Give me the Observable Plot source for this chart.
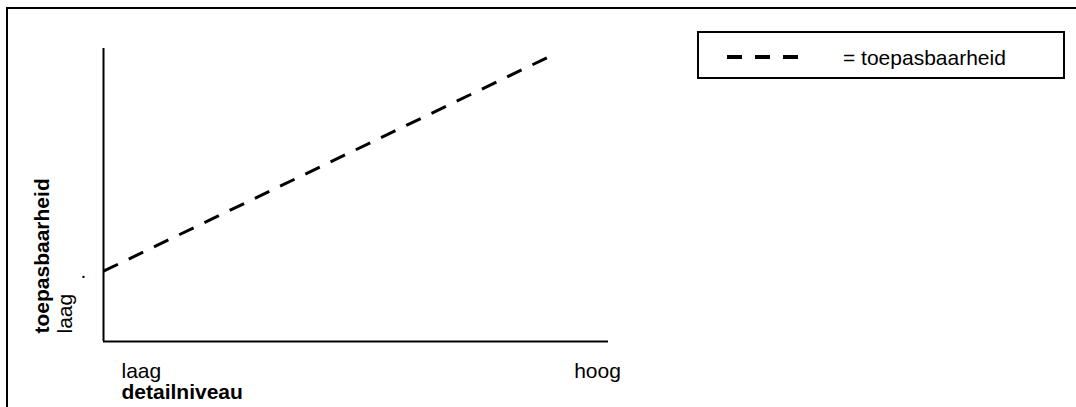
<!DOCTYPE html>
<html><head><meta charset="utf-8">
<script src="https://cdn.jsdelivr.net/npm/d3@7"></script>
<script src="https://cdn.jsdelivr.net/npm/@observablehq/plot@0.6"></script>
<style>
html,body{margin:0;padding:0;background:#fff;}
#wrap{position:relative;width:1076px;height:407px;overflow:hidden;font-family:"Liberation Sans",Arial,sans-serif;}
#wrap > svg{position:absolute;left:0;top:0;}
#frame{position:absolute;left:6px;top:7px;width:2000px;height:2000px;border-top:2px solid #000;border-left:2px solid #000;}
#legend{position:absolute;left:697px;top:31px;width:368px;height:48px;box-sizing:border-box;border:2px solid #000;background:#fff;}
#legend svg{position:absolute;left:0;top:0;}
</style></head><body><div id="wrap"></div>
<script>
// Data
const detailLevel = [0, 0.88];          // x: detailniveau (laag -> hoog)
const applicability = [0.24, 0.97];     // y: toepasbaarheid
const xTickLabels = ["laag", "hoog"];
const yTickLabels = ["laag"];
const xTitle = "detailniveau";
const yTitle = "toepasbaarheid";
const seriesName = "toepasbaarheid";

const data = detailLevel.map((d, i) => ({x: d, y: applicability[i]}));
const font = "'Liberation Sans', Arial, sans-serif";

const chart = Plot.plot({
  width: 1076, height: 407,
  marginLeft: 103, marginRight: 468, marginTop: 48, marginBottom: 66,
  x: {domain: [0, 1], axis: null},
  y: {domain: [0, 1], axis: null},
  style: {fontFamily: font, fontSize: "21px", background: "transparent", overflow: "visible", color: "#000"},
  marks: [
    Plot.ruleX([0], {stroke: "#000", strokeWidth: 2}),
    Plot.ruleY([0], {stroke: "#000", strokeWidth: 2}),
    Plot.line(data, {x: "x", y: "y", stroke: "#000", strokeWidth: 3, strokeDasharray: "16,12", strokeLinecap: "butt"}),
    // x tick labels
    Plot.text([xTickLabels[0]], {text: d => d, frameAnchor: "bottom-left", textAnchor: "start", lineAnchor: "bottom", dx: 18, dy: 36, fontSize: 21, fill: "#000"}),
    Plot.text([xTickLabels[1]], {text: d => d, frameAnchor: "bottom-right", textAnchor: "middle", lineAnchor: "bottom", dx: -11, dy: 36, fontSize: 21, fill: "#000"}),
    // x title
    Plot.text([xTitle], {text: d => d, frameAnchor: "bottom-left", textAnchor: "start", lineAnchor: "bottom", dx: 18, dy: 57, fontSize: 21, fontWeight: "bold", fill: "#000"}),
    // y tick label (rotated)
    Plot.text([yTickLabels[0]], {text: d => d, frameAnchor: "bottom-left", rotate: -90, textAnchor: "start", lineAnchor: "bottom", dx: -32, dy: -8, fontSize: 21, fill: "#000"}),
    // y title (rotated)
    Plot.text([yTitle], {text: d => d, frameAnchor: "bottom-left", rotate: -90, textAnchor: "start", lineAnchor: "bottom", dx: -55, dy: -8, fontSize: 21, fontWeight: "bold", fill: "#000"}),
    // stray dot
    Plot.text(["."], {text: d => d, frameAnchor: "bottom-left", textAnchor: "start", lineAnchor: "bottom", dx: -23, dy: -64, fontSize: 21, fill: "#000"})
  ]
});

const wrap = document.getElementById("wrap");
wrap.appendChild(chart);
const frame = document.createElement("div");
frame.id = "frame";
wrap.appendChild(frame);

// Legend
const legend = document.createElement("div");
legend.id = "legend";
wrap.appendChild(legend);
const lsvg = d3.select(legend).append("svg").attr("width", 364).attr("height", 44);
lsvg.append("line")
  .attr("x1", 28).attr("x2", 99).attr("y1", 24).attr("y2", 24)
  .attr("stroke", "#000").attr("stroke-width", 4).attr("stroke-dasharray", "15,13");
lsvg.append("text")
  .attr("x", 144).attr("y", 32)
  .attr("font-family", font).attr("font-size", 21).attr("fill", "#000")
  .text("= " + seriesName);
</script>
</body></html>
